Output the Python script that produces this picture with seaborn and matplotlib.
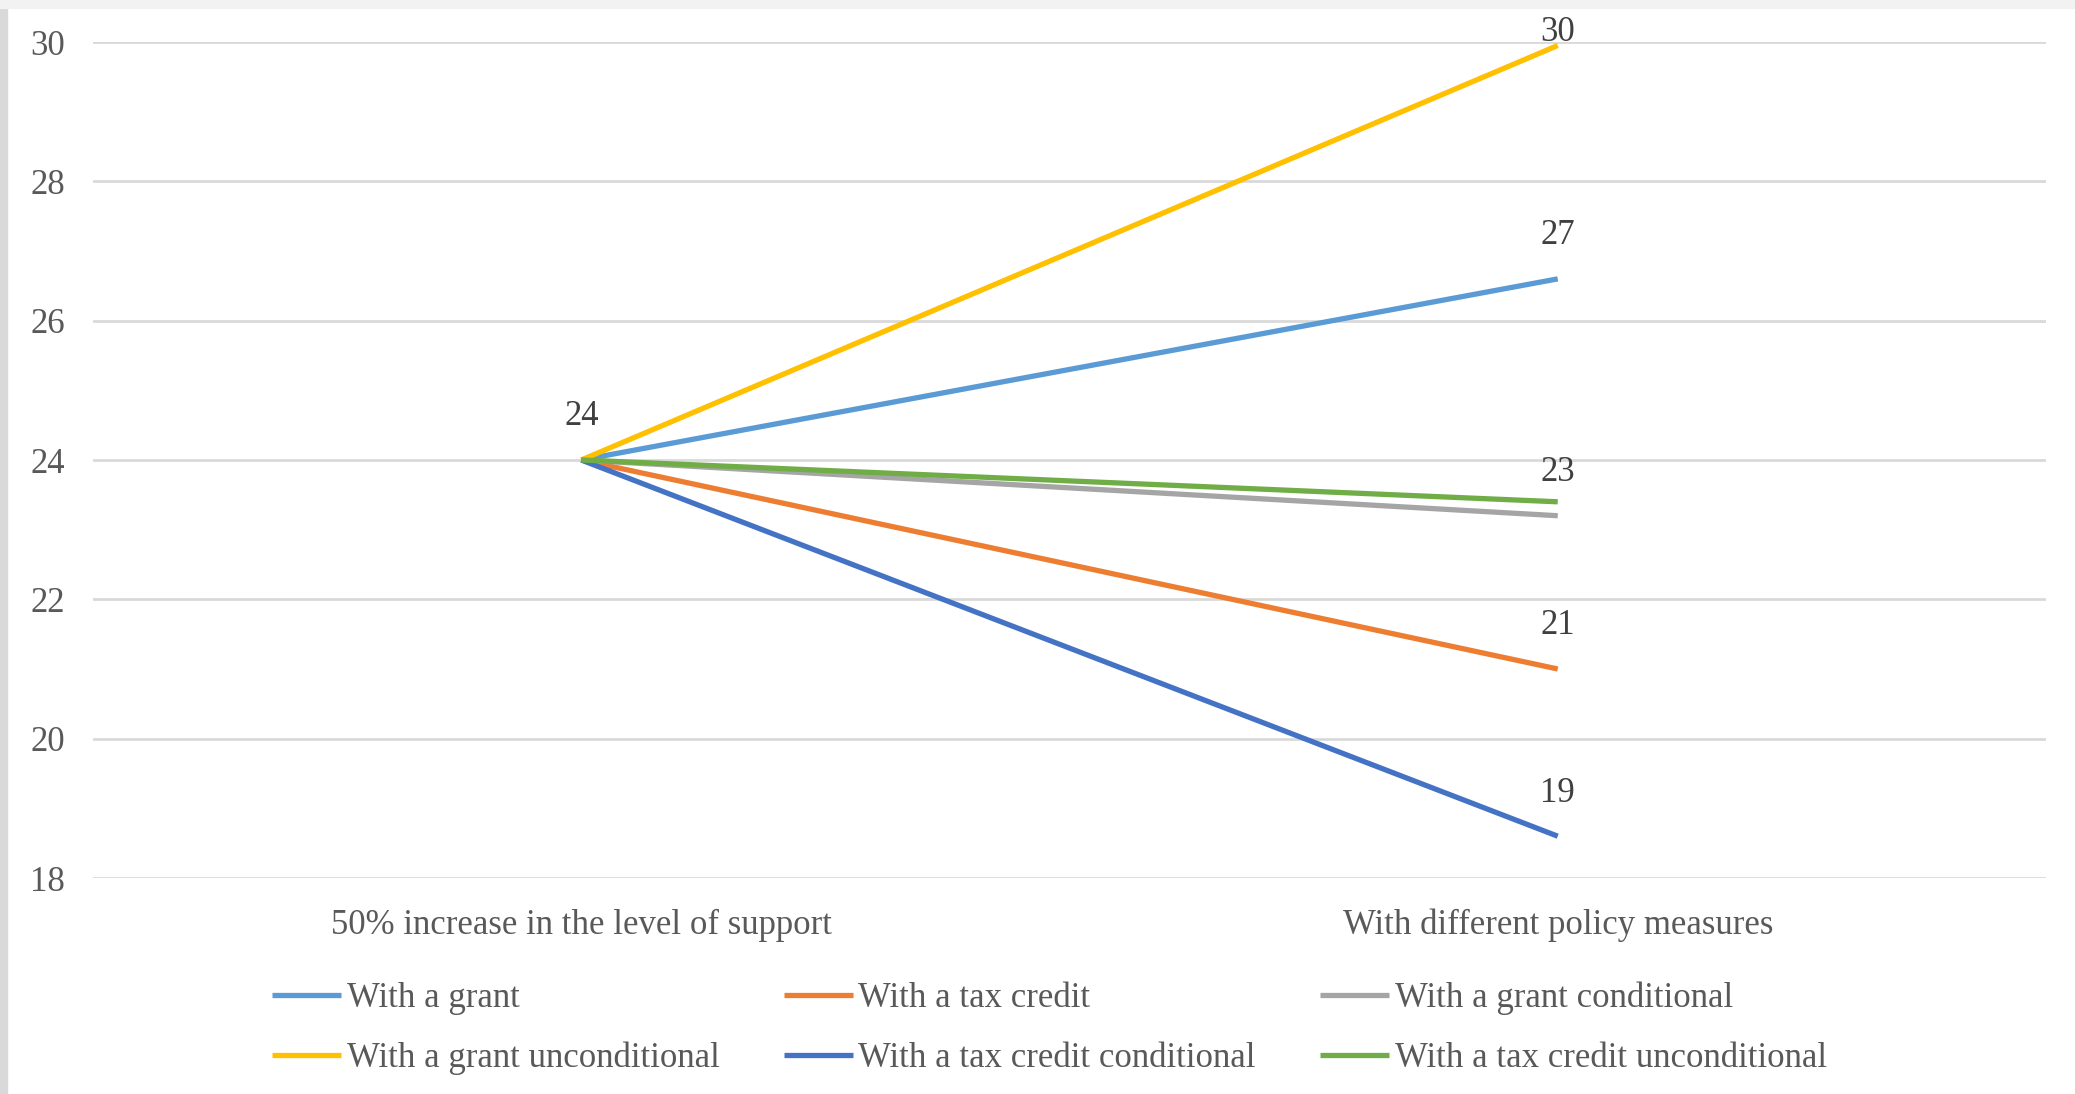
import pandas as pd
import numpy as np
import matplotlib.pyplot as plt
import seaborn as sns
from matplotlib.patches import Rectangle

# %% data
stages = ['50% increase in the level of support', 'With different policy measures']
series = ['With a grant', 'With a tax credit', 'With a grant conditional',
          'With a grant unconditional', 'With a tax credit conditional',
          'With a tax credit unconditional']
start_vals = [24, 24, 24, 24, 24, 24]
end_vals = [26.6, 21.0, 23.2, 29.95, 18.6, 23.4]
colors = ['#5B9BD5', '#ED7D31', '#A5A5A5', '#FFC000', '#4472C4', '#70AD47']
yticks = [18, 20, 22, 24, 26, 28, 30]

df = pd.DataFrame({
    'stage': stages * len(series),
    'series': np.repeat(series, 2),
    'value': np.ravel(np.column_stack([start_vals, end_vals])),
})

# %%
sns.set_style('white')
plt.rcParams['font.family'] = ['Liberation Serif', 'DejaVu Serif']
txt = '#595959'
fs = 25

fig = plt.figure(figsize=(20.75, 10.94), dpi=100)
ax = fig.add_axes([93 / 2075, 1 - 878 / 1094, (2046 - 93) / 2075, (878 - 42) / 1094])

sns.lineplot(data=df, x='stage', y='value', hue='series', hue_order=series,
             palette=dict(zip(series, colors)), linewidth=3.8, ax=ax,
             sort=False, legend=True)
for ln in ax.lines:
    ln.set_clip_on(False)
    ln.set_solid_capstyle('butt')

ax.set_xlim(-0.5, 1.5)
ax.set_ylim(18, 30)
ax.set_yticks(yticks)
ax.yaxis.grid(True, color='#D9D9D9', linewidth=2)
ax.set_axisbelow(True)
for s in ax.spines.values():
    s.set_visible(False)
ax.set_xlabel('')
ax.set_ylabel('')
ax.tick_params(axis='y', length=0, pad=20, labelsize=fs, labelcolor=txt)
ax.tick_params(axis='x', length=0, pad=22, labelsize=fs, labelcolor=txt)

# data labels, one per distinct rounded value at each stage
lab_col = '#404040'
for i, vals in enumerate([start_vals, end_vals]):
    seen = {}
    for v in vals:
        r = int(round(v))
        seen[r] = min(seen.get(r, v), v)
    for r, v in seen.items():
        ax.text(i, min(v + 0.62, 30.13), str(r), ha='center', va='center',
                fontsize=fs, color=lab_col)

# legend laid out row by row (matplotlib fills columns first)
h, l = ax.get_legend_handles_labels()
order = [0, 3, 1, 4, 2, 5]
ax.legend([h[k] for k in order], [l[k] for k in order], ncol=3,
          loc='center left', bbox_to_anchor=(258 / 2075, 0.060),
          bbox_transform=fig.transFigure, frameon=False, fontsize=fs,
          labelcolor=txt, handlelength=2.0, handletextpad=0.15,
          columnspacing=1.85, labelspacing=0.78, borderaxespad=0)

# screenshot frame edges
fig.patches.append(Rectangle((0, 0), 7 / 2075, 1, transform=fig.transFigure,
                             color='#D9D9D9', zorder=-1))
fig.patches.append(Rectangle((0, 1 - 8 / 1094), 1, 8 / 1094, transform=fig.transFigure,
                             color='#F2F2F2', zorder=-1))

fig.savefig('out.png', dpi=100)
